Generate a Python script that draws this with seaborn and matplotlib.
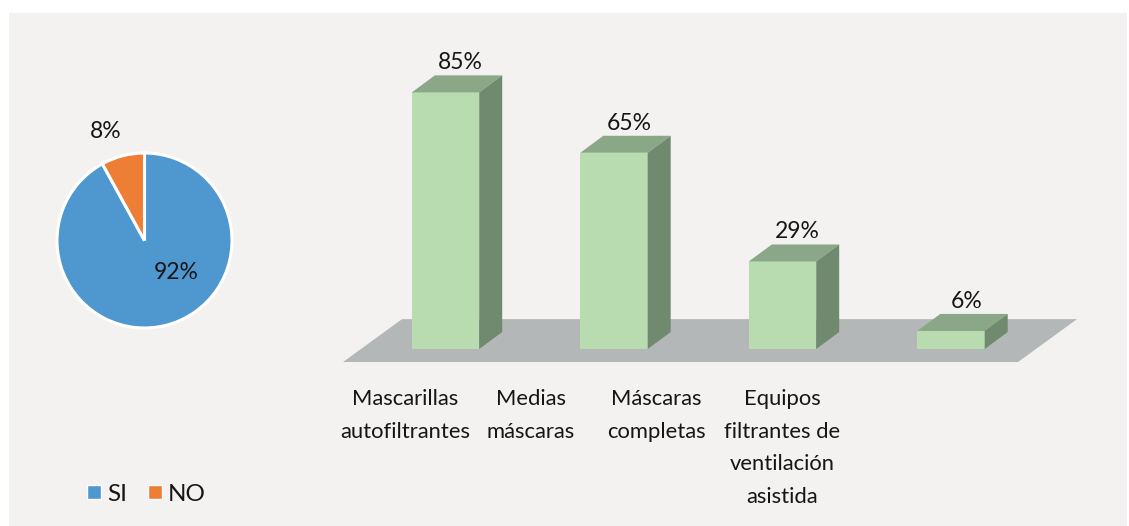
import matplotlib
matplotlib.use("Agg")
import matplotlib.pyplot as plt
from matplotlib.patches import Rectangle, Polygon
from matplotlib.lines import Line2D
import seaborn as sns

# ---- data -------------------------------------------------------------
pie_labels = ["SI", "NO"]
pie_values = [92, 8]

categories = [
    "Mascarillas\nautofiltrantes",
    "Medias\nmáscaras",
    "Máscaras\ncompletas",
    "Equipos\nfiltrantes de\nventilación\nasistida",
]
percentages = [85, 65, 29, 6]

# ---- style ------------------------------------------------------------
sns.set_theme(style="white")
plt.rcParams["font.family"] = ["Lato", "DejaVu Sans"]

PANEL = "#f3f2f0"
TEXT = "#161616"
PIE_COLORS = ["#4f98cf", "#ee7d35"]
FRONT = "#b8dcb0"
TOP = "#8aa888"
SIDE = "#6f8a6e"
FLOOR = "#b4b7b7"
FS = 16.5
FS_CAT = 15.8

W, H = 1129, 526
fig = plt.figure(figsize=(W / 100, H / 100), dpi=100)
fig.patch.set_facecolor("white")
fig.patches.append(Rectangle((9 / W, 0), (1127 - 9) / W, (H - 13) / H,
                             transform=fig.transFigure, facecolor=PANEL,
                             edgecolor="none", zorder=-10))

# ---- pie ------------------------------------------------------------
ax_pie = fig.add_axes([57 / W, (H - 328) / H, 175 / W, 175 / H])
wedges, _ = ax_pie.pie(pie_values, colors=PIE_COLORS, startangle=90,
                       counterclock=False, radius=1,
                       wedgeprops=dict(edgecolor="white", linewidth=2.2))
for w in wedges:
    w.set_clip_on(False)
ax_pie.set_xlim(-1, 1)
ax_pie.set_ylim(-1, 1)
ax_pie.set_aspect("equal")
ax_pie.axis("off")
pie_text_pos = [(0.36, -0.37), (-0.44, 1.24)]
for v, (tx, ty) in zip(pie_values, pie_text_pos):
    ax_pie.text(tx, ty, f"{v}%", ha="center", va="center",
                fontsize=FS, color=TEXT)

handles = [Line2D([], [], marker="s", linestyle="", markersize=10,
                  markerfacecolor=c, markeredgecolor="white",
                  markeredgewidth=1.0) for c in PIE_COLORS]
fig.legend(handles, pie_labels, loc="center left",
           bbox_to_anchor=(85 / W, 1 - 494 / H), ncol=2, frameon=False,
           prop=dict(size=17.5), handlelength=0.7,
           handletextpad=0.2, columnspacing=0.8, borderaxespad=0,
           borderpad=0, labelcolor=TEXT)

# ---- pseudo-3D bars -----------------------------------------------------
ax = fig.add_axes([293.85 / W, (H - 484.9) / H, 808.8 / W, 468 / H])
ax.set_facecolor("none")
sns.barplot(x=categories, y=percentages, width=0.4, color=FRONT,
            saturation=1, edgecolor="none", ax=ax, zorder=3)
ax.set_xlim(-0.9, 3.9)
ax.set_ylim(-45, 110)
ax.axis("off")

# floor plane
fx0, fx1, fy0 = -0.608, 3.398, -4.3
fdx, fdy = 0.35, 14.2
ax.add_patch(Polygon([(fx0, fy0), (fx1, fy0), (fx1 + fdx, fy0 + fdy),
                      (fx0 + fdx, fy0 + fdy)], closed=True,
                     facecolor=FLOOR, edgecolor="none", zorder=1))

# depth faces derived from each drawn bar
ddx, ddy = 0.1365, 5.63
for bar, v in zip(ax.patches[:len(percentages)], percentages):
    x0 = bar.get_x()
    x1 = x0 + bar.get_width()
    h = bar.get_height()
    ax.add_patch(Polygon([(x0, h), (x1, h), (x1 + ddx, h + ddy),
                          (x0 + ddx, h + ddy)], closed=True,
                         facecolor=TOP, edgecolor="none", zorder=3))
    ax.add_patch(Polygon([(x1, 0), (x1 + ddx, ddy), (x1 + ddx, h + ddy),
                          (x1, h)], closed=True,
                         facecolor=SIDE, edgecolor="none", zorder=3))
    ax.text((x0 + x1) / 2 + 0.09, h + ddy + 2.0, f"{v}%", ha="center",
            va="baseline", fontsize=FS, color=TEXT)

# category labels, set in perspective below the floor
for i, cat in enumerate(categories):
    ax.text(i * 0.746 - 0.24, -13.3, cat, ha="center", va="top",
            fontsize=FS_CAT, color=TEXT, linespacing=1.78, clip_on=False)

fig.savefig("out.png", dpi=100, facecolor=fig.get_facecolor())
